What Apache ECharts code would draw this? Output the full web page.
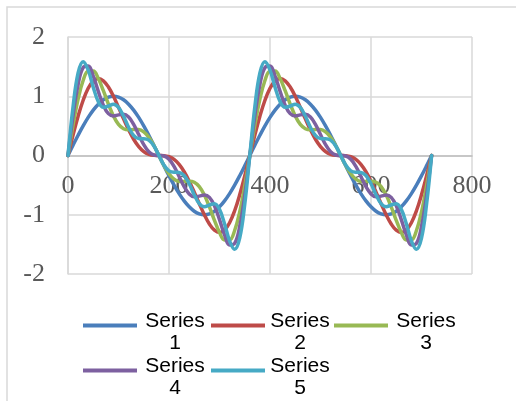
<!DOCTYPE html>
<html>
<head>
<meta charset="utf-8">
<script src="https://cdn.jsdelivr.net/npm/echarts@6/dist/echarts.min.js"></script>
<style>html,body{margin:0;padding:0;background:#fff}#c{width:516px;height:401px}</style>
</head>
<body>
<div id="c"></div>
<script>
var xValues = [0,10,20,30,40,50,60,70,80,90,100,110,120,130,140,150,160,170,180,190,200,210,220,230,240,250,260,270,280,290,300,310,320,330,340,350,360,370,380,390,400,410,420,430,440,450,460,470,480,490,500,510,520,530,540,550,560,570,580,590,600,610,620,630,640,650,660,670,680,690,700,710,720];
var seriesNames = ['Series 1','Series 2','Series 3','Series 4','Series 5'];
var series1 = [0,0.174,0.342,0.5,0.643,0.766,0.866,0.94,0.985,1,0.985,0.94,0.866,0.766,0.643,0.5,0.342,0.174,0,-0.174,-0.342,-0.5,-0.643,-0.766,-0.866,-0.94,-0.985,-1,-0.985,-0.94,-0.866,-0.766,-0.643,-0.5,-0.342,-0.174,
  0,0.174,0.342,0.5,0.643,0.766,0.866,0.94,0.985,1,0.985,0.94,0.866,0.766,0.643,0.5,0.342,0.174,0,-0.174,-0.342,-0.5,-0.643,-0.766,-0.866,-0.94,-0.985,-1,-0.985,-0.94,-0.866,-0.766,-0.643,-0.5,-0.342,-0.174,0];
var series2 = [0,0.345,0.663,0.933,1.135,1.258,1.299,1.261,1.156,1,0.814,0.618,0.433,0.274,0.15,0.067,0.021,0.003,0,-0.003,-0.021,-0.067,-0.15,-0.274,-0.433,-0.618,-0.814,-1,-1.156,-1.261,-1.299,-1.258,-1.135,-0.933,-0.663,-0.345,
  0,0.345,0.663,0.933,1.135,1.258,1.299,1.261,1.156,1,0.814,0.618,0.433,0.274,0.15,0.067,0.021,0.003,0,-0.003,-0.021,-0.067,-0.15,-0.274,-0.433,-0.618,-0.814,-1,-1.156,-1.261,-1.299,-1.258,-1.135,-0.933,-0.663,-0.345,0];
var series3 = [0,0.511,0.952,1.266,1.424,1.425,1.299,1.094,0.867,0.667,0.525,0.452,0.433,0.44,0.439,0.4,0.309,0.169,0,-0.169,-0.309,-0.4,-0.439,-0.44,-0.433,-0.452,-0.525,-0.667,-0.867,-1.094,-1.299,-1.425,-1.424,-1.266,-0.952,-0.511,
  0,0.511,0.952,1.266,1.424,1.425,1.299,1.094,0.867,0.667,0.525,0.452,0.433,0.44,0.439,0.4,0.309,0.169,0,-0.169,-0.309,-0.4,-0.439,-0.44,-0.433,-0.452,-0.525,-0.667,-0.867,-1.094,-1.299,-1.425,-1.424,-1.266,-0.952,-0.511,0];
var series4 = [0,0.672,1.198,1.483,1.509,1.34,1.083,0.848,0.706,0.667,0.686,0.698,0.65,0.526,0.354,0.184,0.063,0.009,0,-0.009,-0.063,-0.184,-0.354,-0.526,-0.65,-0.698,-0.686,-0.667,-0.706,-0.848,-1.083,-1.34,-1.509,-1.483,-1.198,-0.672,
  0,0.672,1.198,1.483,1.509,1.34,1.083,0.848,0.706,0.667,0.686,0.698,0.65,0.526,0.354,0.184,0.063,0.009,0,-0.009,-0.063,-0.184,-0.354,-0.526,-0.65,-0.698,-0.686,-0.667,-0.706,-0.848,-1.083,-1.34,-1.509,-1.483,-1.198,-0.672,0];
var series5 = [0,0.825,1.395,1.583,1.441,1.152,0.909,0.813,0.835,0.867,0.814,0.663,0.476,0.338,0.285,0.284,0.26,0.162,0,-0.162,-0.26,-0.284,-0.285,-0.338,-0.476,-0.663,-0.814,-0.867,-0.835,-0.813,-0.909,-1.152,-1.441,-1.583,-1.395,-0.825,
  0,0.825,1.395,1.583,1.441,1.152,0.909,0.813,0.835,0.867,0.814,0.663,0.476,0.338,0.285,0.284,0.26,0.162,0,-0.162,-0.26,-0.284,-0.285,-0.338,-0.476,-0.663,-0.814,-0.867,-0.835,-0.813,-0.909,-1.152,-1.441,-1.583,-1.395,-0.825,0];
var colors = ['#4A7EBB','#BE4B48','#98B954','#7D60A0','#46AAC5'];
var allSeries = [series1, series2, series3, series4, series5];

var legendPos = [[83,311],[211,311],[334,311],[83,356],[211,356]];

var chart = echarts.init(document.getElementById('c'), null, {renderer:'canvas'});
var axisFont = {fontFamily:'Liberation Serif', fontSize:26, color:'#595959'};
var gridTop = 37, gridBottom = 127, chartH = 401;
var plotH = chartH - gridTop - gridBottom;
var option = {
  animation:false,
  backgroundColor:'#fff',
  grid:{left:68, right:44, top:gridTop, bottom:gridBottom, containLabel:false},
  xAxis:{type:'value', min:0, max:800, interval:200, position:'bottom', offset:-plotH/2,
    axisLine:{show:true, onZero:false, lineStyle:{color:'#bfbfbf', width:1.5}},
    axisTick:{show:false},
    axisLabel:Object.assign({margin:18}, axisFont),
    splitLine:{show:true, lineStyle:{color:'#d9d9d9', width:1.5}}},
  yAxis:{type:'value', min:-2, max:2, interval:1,
    axisLine:{show:true, lineStyle:{color:'#d9d9d9', width:1.5}},
    axisTick:{show:false},
    axisLabel:Object.assign({margin:23}, axisFont),
    splitLine:{show:true, lineStyle:{color:'#d9d9d9', width:1.5}}},
  legend: seriesNames.map(function(n, i){
    return {
      data:[n], left:legendPos[i][0], top:legendPos[i][1], padding:0,
      icon:'rect', itemWidth:54, itemHeight:4,
      formatter:function(name){ var p = name.split(' '); return '{a|' + p[0] + '}\n{a|' + p[1] + '}'; },
      textStyle:{padding:[14,0,0,i===1||i===4?0:3], color:'#000',
        rich:{a:{width:60, align:'center', fontFamily:'Liberation Sans', fontSize:21, lineHeight:22, color:'#000'}}}
    };
  }),
  graphic:[{type:'rect', shape:{x:7, y:7, width:540, height:440}, style:{fill:'none', stroke:'#d9d9d9', lineWidth:1.5}, silent:true}],
  series: seriesNames.map(function(n, i){
    return {
      name:n, type:'line', color:colors[i], smooth:0.4, symbol:'none', showSymbol:false,
      lineStyle:{width:3.5, cap:'round', join:'round'},
      data: xValues.map(function(x, j){ return [x, allSeries[i][j]]; }),
      z: 2 + i
    };
  })
};
chart.setOption(option);
</script>
</body>
</html>
